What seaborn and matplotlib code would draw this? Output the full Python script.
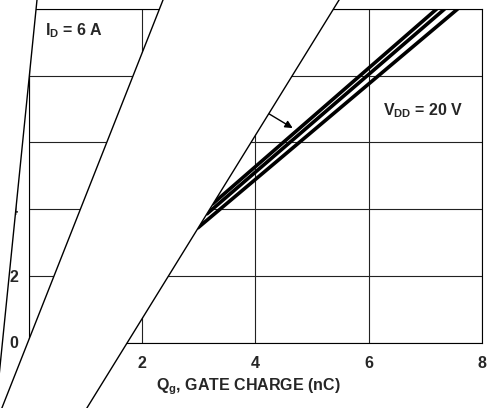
import pandas as pd
import seaborn as sns
import matplotlib.pyplot as plt
from matplotlib.patches import Polygon
from matplotlib.lines import Line2D

# visible part of the gate charge curves (Qg in nC, VGS in V)
qg_a = [3.25, 7.20]
vgs_a = [4.16, 10.0]
qg_b = [3.15, 7.34]
vgs_b = [3.86, 10.0]
qg_c = [2.99, 7.57]
vgs_c = [3.44, 10.0]

x_ticks = [0, 2, 4, 6, 8]
y_ticks = [0, 2, 4, 6, 8, 10]

W, H = 494, 408

# white slanted bands that cover part of the chart (pixel coords, top-left origin)
left_edge = [(39.0, -20), (-6.4, 430)]
band_left_edge = [(170.9, -20), (-6.8, 430)]
band_right_edge = [(351.4, -20), (73.3, 430)]


def px(p):
    return (p[0] / W, 1 - p[1] / H)


sns.set_theme(style="white")
plt.rcParams["font.family"] = ["Liberation Sans", "DejaVu Sans"]
plt.rcParams["font.weight"] = "bold"
FS = 11.5

fig = plt.figure(figsize=(W / 100, H / 100), dpi=100)
ax = fig.add_axes([28.5 / W, 1 - 342.5 / H, (482 - 28.5) / W, (342.5 - 9) / H])

df = pd.concat([
    pd.DataFrame({"qg": qg_a, "vgs": vgs_a, "curve": "a"}),
    pd.DataFrame({"qg": qg_b, "vgs": vgs_b, "curve": "b"}),
    pd.DataFrame({"qg": qg_c, "vgs": vgs_c, "curve": "c"}),
])
sns.lineplot(data=df, x="qg", y="vgs", units="curve", estimator=None,
             color="black", lw=2.6, ax=ax, solid_capstyle="round")

ax.set_xlim(0, 8)
ax.set_ylim(0, 10)
ax.set_xticks(x_ticks)
ax.set_yticks(y_ticks)
ax.set_xticklabels([str(t) for t in x_ticks], fontsize=FS, fontweight="bold")
ax.set_yticklabels([str(t) for t in y_ticks], fontsize=FS, fontweight="bold")
ax.tick_params(axis="x", length=0, pad=9.5)
ax.tick_params(axis="y", length=0, pad=7.5)
ax.grid(True, color="#222222", lw=0.8)
for s in ax.spines.values():
    s.set_color("black")
    s.set_linewidth(0.8)

ax.set_xlabel("Q$_\\mathregular{g}$, GATE CHARGE (nC)", fontsize=FS,
              fontweight="bold", labelpad=4, x=0.485)
ax.set_ylabel("")

ax.text(0.29, 9.35, "I$_\\mathregular{D}$ = 6 A", fontsize=FS,
        fontweight="bold", va="center", ha="left")
ax.text(6.26, 6.95, "V$_\\mathregular{DD}$ = 20 V", fontsize=FS,
        fontweight="bold", va="center", ha="left")
ax.annotate("", xy=(4.66, 6.43), xytext=(4.22, 6.88),
            arrowprops=dict(arrowstyle="-|>", color="black", lw=1.0,
                            mutation_scale=11, shrinkA=0, shrinkB=0))

# masks
left_poly = [(-20, -20), left_edge[0], left_edge[1], (-20, 430)]
band_poly = [band_left_edge[0], band_right_edge[0], band_right_edge[1], band_left_edge[1]]
for poly in (left_poly, band_poly):
    fig.add_artist(Polygon([px(p) for p in poly], closed=True, fc="white",
                           ec="none", transform=fig.transFigure, zorder=5))
for edge in (left_edge, band_left_edge, band_right_edge):
    pts = [px(p) for p in edge]
    fig.add_artist(Line2D([pts[0][0], pts[1][0]], [pts[0][1], pts[1][1]],
                          color="black", lw=1.0, transform=fig.transFigure, zorder=6))

fig.savefig("out.png", dpi=100)
